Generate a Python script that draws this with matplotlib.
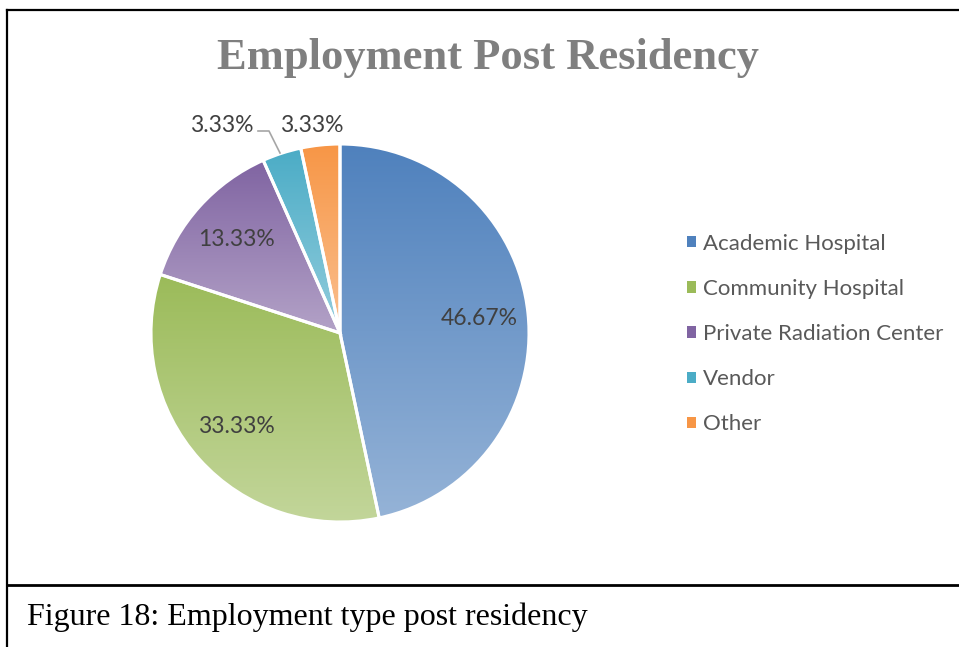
import numpy as np
import matplotlib
matplotlib.use('Agg')
import matplotlib.pyplot as plt
from matplotlib.colors import to_rgb
from matplotlib.patches import Rectangle
from matplotlib.lines import Line2D

# data
kategori = ["Academic Hospital", "Community Hospital", "Private Radiation Center",
            "Vendor", "Other"]
persen = [46.67, 33.33, 13.33, 3.33, 3.33]

# warna gradien (atas -> bawah) ala Office
warna_atas = ["#4f81bd", "#9bbb59", "#8064a2", "#4bacc6", "#f79646"]
warna_bawah = ["#95b3d7", "#c3d69b", "#b3a2c7", "#93cddd", "#fac090"]

W, H = 959, 647
fig = plt.figure(figsize=(W / 100, H / 100), dpi=100)
ax = fig.add_axes([0, 0, 1, 1])

# ukuran dalam piksel, sumbu y dibalik manual (y = H - piksel)
cx, cy, R = 340, H - 333, 189

wedges, _, autotexts = ax.pie(
    persen, colors=warna_atas, startangle=90, counterclock=False,
    center=(cx, cy), radius=R, autopct='%.2f%%', pctdistance=0.74,
    wedgeprops=dict(edgecolor='white', linewidth=2.2),
    textprops=dict(family='Lato', fontsize=16.5, color='#404040'))

# isi gradien vertikal per irisan
for w, c1, c2 in zip(wedges, warna_atas, warna_bawah):
    v = w.get_path().vertices
    x0, x1 = v[:, 0].min(), v[:, 0].max()
    y0, y1 = v[:, 1].min(), v[:, 1].max()
    t = np.linspace(0, 1, 256)[:, None]
    grad = (1 - t) * np.array(to_rgb(c1)) + t * np.array(to_rgb(c2))
    im = ax.imshow(grad[:, None, :], extent=(x0, x1, y0, y1), origin='upper',
                   aspect='auto', interpolation='bilinear', zorder=1)
    im.set_clip_path(w)
    w.set_facecolor('none')
    w.set_zorder(2)

# label irisan kecil di luar pie
autotexts[3].set_position((222, H - 125))
autotexts[4].set_position((312, H - 125))
ax.plot([258, 269, 280], [H - 131, H - 131, H - 153], color='#a6a6a6', lw=1.2, zorder=3)

ax.set_xlim(0, W)
ax.set_ylim(0, H)
ax.set_aspect('auto')
ax.axis('off')

# judul
fig.text(488 / W, 1 - 58 / H, "Employment Post Residency", ha='center', va='center',
         family='Liberation Serif', fontweight='bold', fontsize=32, color='#7f7f7f')

# legenda
handles = [Rectangle((0, 0), 1, 1, facecolor=c) for c in warna_atas]
fig.legend(handles, kategori, loc='center left', bbox_to_anchor=(687 / W, 1 - 334 / H),
           frameon=False, borderpad=0, borderaxespad=0, handlelength=0.4,
           handleheight=0.4, handletextpad=0.32, labelspacing=1.13,
           prop=dict(family='Lato', size=16), labelcolor='#595959')

# bingkai dan keterangan
garis = dict(color='black', transform=None, linewidth=1.6)
fig.add_artist(Line2D([7, W], [H - 10, H - 10], **garis))
fig.add_artist(Line2D([7, 7], [0, H - 10], **garis))
fig.add_artist(Line2D([7, W], [H - 585, H - 585], color='black', transform=None, linewidth=2))

fig.text(27 / W, 1 - 625 / H, "Figure 18: Employment type post residency", ha='left',
         va='baseline', family='Liberation Serif', fontsize=23, color='black')

fig.savefig('out.png', dpi=100)
